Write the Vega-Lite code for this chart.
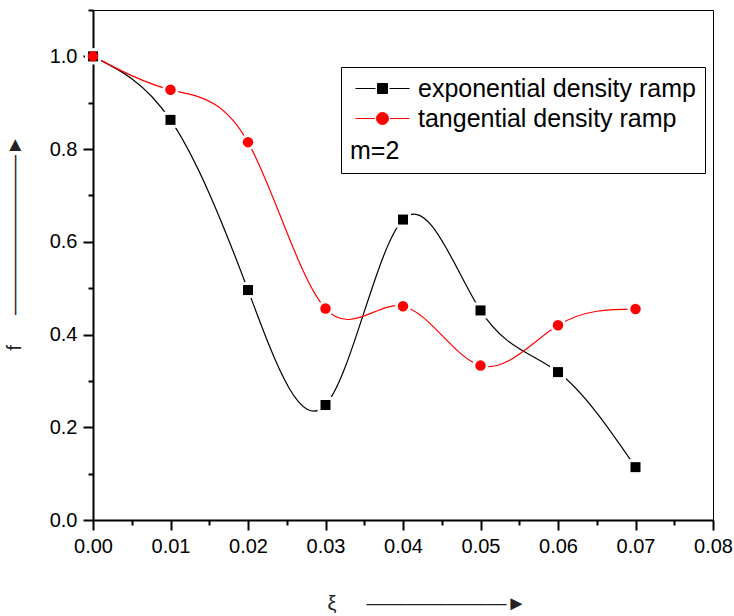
{
  "$schema": "https://vega.github.io/schema/vega-lite/v6.json",
  "width": 620,
  "height": 510,
  "autosize": "none",
  "padding": {"left": 93, "top": 10, "right": 21, "bottom": 96},
  "background": "white",
  "config": {
    "view": {"stroke": "black", "strokeWidth": 1},
    "font": "Liberation Sans",
    "legend": {
      "orient": "none",
      "legendX": 248,
      "legendY": 57,
      "titleOrient": "bottom",
      "titleAnchor": "start",
      "titleFontSize": 25,
      "titleFontWeight": "normal",
      "titleFont": "Liberation Sans",
      "titleColor": "black",
      "titlePadding": 7,
      "labelFontSize": 25,
      "labelFont": "Liberation Sans",
      "labelColor": "black",
      "labelLimit": 0,
      "strokeColor": "black",
      "fillColor": "white",
      "padding": 9,
      "symbolSize": 400,
      "symbolStrokeWidth": 1,
      "symbolOpacity": 1,
      "symbolOffset": 20,
      "labelOffset": 23,
      "rowPadding": 4
    }
  },
  "data": {
    "values": [
      {"xi": 0.00, "f": 1.000, "series": "exponential density ramp"},
      {"xi": 0.01, "f": 0.863, "series": "exponential density ramp"},
      {"xi": 0.02, "f": 0.496, "series": "exponential density ramp"},
      {"xi": 0.03, "f": 0.248, "series": "exponential density ramp"},
      {"xi": 0.04, "f": 0.648, "series": "exponential density ramp"},
      {"xi": 0.05, "f": 0.452, "series": "exponential density ramp"},
      {"xi": 0.06, "f": 0.319, "series": "exponential density ramp"},
      {"xi": 0.07, "f": 0.114, "series": "exponential density ramp"},
      {"xi": 0.00, "f": 1.000, "series": "tangential density ramp"},
      {"xi": 0.01, "f": 0.928, "series": "tangential density ramp"},
      {"xi": 0.02, "f": 0.815, "series": "tangential density ramp"},
      {"xi": 0.03, "f": 0.456, "series": "tangential density ramp"},
      {"xi": 0.04, "f": 0.461, "series": "tangential density ramp"},
      {"xi": 0.05, "f": 0.333, "series": "tangential density ramp"},
      {"xi": 0.06, "f": 0.420, "series": "tangential density ramp"},
      {"xi": 0.07, "f": 0.455, "series": "tangential density ramp"}
    ]
  },
  "encoding": {
    "x": {
      "field": "xi",
      "type": "quantitative",
      "scale": {"domain": [0, 0.08], "nice": false, "zero": false},
      "axis": {
        "values": [0, 0.005, 0.01, 0.015, 0.02, 0.025, 0.03, 0.035, 0.04, 0.045, 0.05, 0.055, 0.06, 0.065, 0.07, 0.075, 0.08],
        "labelExpr": "round(datum.value*200) % 2 === 0 ? format(datum.value, '.2f') : ''",
        "tickSize": {"condition": {"test": "round(datum.value*200) % 2 !== 0", "value": 5}, "value": 10},
        "tickWidth": 2,
        "tickColor": "black",
        "domainColor": "black",
        "domainWidth": 2,
        "grid": false,
        "labelFontSize": 20,
        "labelFont": "Liberation Sans",
        "labelColor": "black",
        "labelPadding": 6,
        "labelOverlap": false,
        "labelFlush": false,
        "labelBound": false,
        "title": "ξ\u2003\u2002———————►",
        "titleFont": "Liberation Sans",
        "titleFontSize": 20,
        "titleFontWeight": "normal",
        "titleColor": "#222222",
        "titleX": 234,
        "titleY": 83,
        "titleAlign": "left",
        "titleBaseline": "middle",
        "titleAngle": 0
      }
    },
    "y": {
      "field": "f",
      "type": "quantitative",
      "scale": {"domain": [0, 1.1], "nice": false, "zero": false},
      "axis": {
        "values": [0, 0.1, 0.2, 0.3, 0.4, 0.5, 0.6, 0.7, 0.8, 0.9, 1.0, 1.1],
        "labelExpr": "round(datum.value*10) % 2 === 0 ? format(datum.value, '.1f') : ''",
        "tickSize": {"condition": {"test": "round(datum.value*10) % 2 !== 0", "value": 5}, "value": 10},
        "tickWidth": 2,
        "tickColor": "black",
        "domainColor": "black",
        "domainWidth": 2,
        "grid": false,
        "labelFontSize": 20,
        "labelFont": "Liberation Sans",
        "labelColor": "black",
        "labelPadding": 6,
        "labelOverlap": false,
        "labelFlush": false,
        "labelBound": false,
        "title": "f\u2003\u2002————————►",
        "titleFont": "Liberation Sans",
        "titleFontSize": 20,
        "titleFontWeight": "normal",
        "titleColor": "#222222",
        "titleX": -79,
        "titleY": 340,
        "titleAlign": "left",
        "titleBaseline": "middle",
        "titleAngle": 270
      }
    },
    "color": {
      "field": "series",
      "type": "nominal",
      "scale": {"domain": ["exponential density ramp", "tangential density ramp"], "range": ["#000000", "#ff0000"]},
      "legend": {"title": "m=2"}
    }
  },
  "layer": [
    {
      "mark": {"type": "line", "interpolate": "natural", "strokeWidth": 1.2}
    },
    {
      "transform": [{"filter": "datum.series === 'exponential density ramp'"}],
      "mark": {"type": "point", "shape": "square", "filled": true, "opacity": 1, "size": 256},
      "encoding": {"color": {"value": "white"}}
    },
    {
      "transform": [{"filter": "datum.series === 'tangential density ramp'"}],
      "mark": {"type": "point", "shape": "circle", "filled": true, "opacity": 1, "size": 256},
      "encoding": {"color": {"value": "white"}}
    },
    {
      "transform": [{"filter": "datum.series === 'exponential density ramp'"}],
      "mark": {"type": "point", "shape": "square", "filled": true, "opacity": 1, "size": 100}
    },
    {
      "transform": [{"filter": "datum.series === 'tangential density ramp'"}],
      "mark": {"type": "point", "shape": "circle", "filled": true, "opacity": 1, "size": 110}
    },
    {
      "transform": [{"filter": "false"}],
      "mark": {"type": "point", "filled": true, "opacity": 1, "strokeWidth": 1},
      "encoding": {
        "shape": {
          "field": "series",
          "type": "nominal",
          "scale": {
            "domain": ["exponential density ramp", "tangential density ramp"],
            "range": ["M-2.7,0H-0.7M0.7,0H2.7M-0.5,-0.5H0.5V0.5H-0.5Z", "M-2.7,0H-0.75M0.75,0H2.7M-0.6,0A0.6,0.6 0 1,0 0.6,0A0.6,0.6 0 1,0 -0.6,0Z"]
          },
          "legend": {"title": "m=2"}
        },
        "stroke": {
          "field": "series",
          "type": "nominal",
          "scale": {"domain": ["exponential density ramp", "tangential density ramp"], "range": ["#000000", "#ff0000"]},
          "legend": {"title": "m=2"}
        }
      }
    }
  ]
}
